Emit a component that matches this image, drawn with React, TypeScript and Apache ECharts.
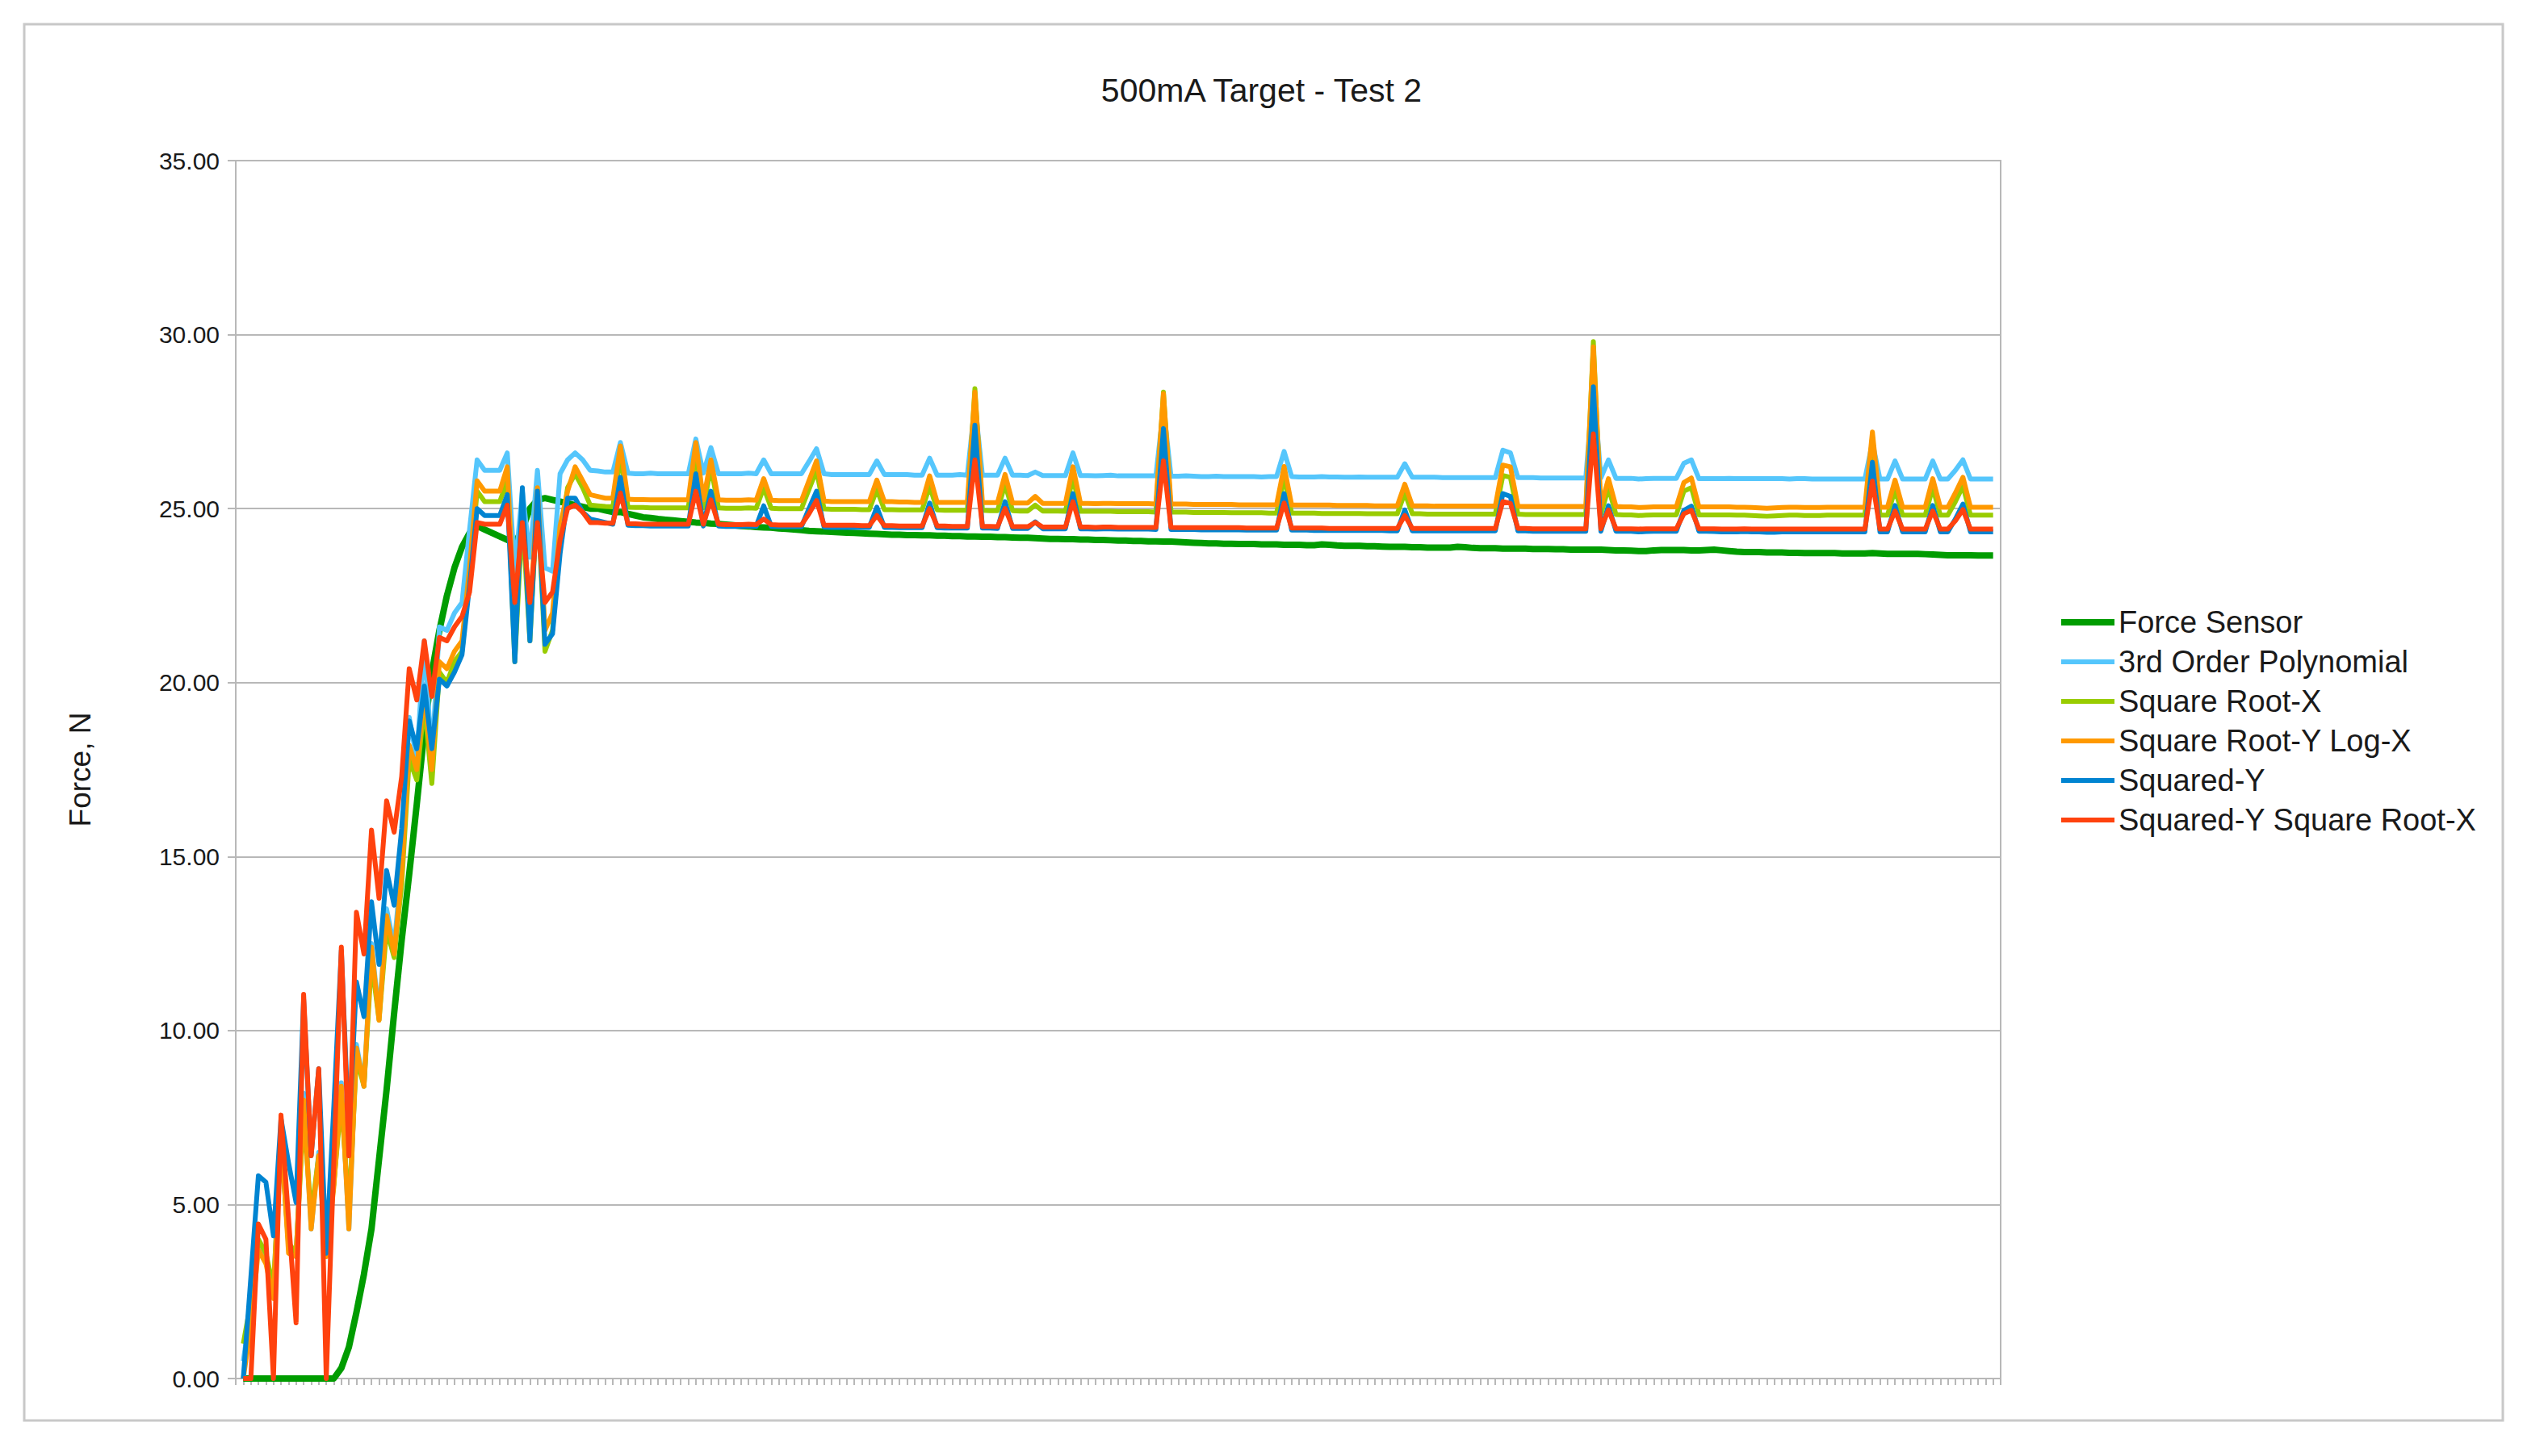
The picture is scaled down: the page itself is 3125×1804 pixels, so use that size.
import React, { useEffect, useRef } from "react";
import * as echarts from "echarts";

const TITLE = "500mA Target - Test 2";
const Y_NAME = "Force, N";
const SERIES_NAMES = [
  "Force Sensor",
  "3rd Order Polynomial",
  "Square Root-X",
  "Square Root-Y Log-X",
  "Squared-Y",
  "Squared-Y Square Root-X",
];
const COLORS = ["#009c00", "#55c6fc", "#99cc00", "#ff9900", "#0084d1", "#ff420e"];

const forceSensor = [
  0, 0, 0, 0, 0, 0, 0, 0, 0, 0,
  0, 0, 0, 0.3, 0.9, 1.9, 3.0, 4.3, 6.3, 8.3,
  10.5, 12.6, 14.5, 16.5, 18.6, 20.3, 21.5, 22.5, 23.3, 23.9,
  24.3, 24.5, 24.4, 24.3, 24.2, 24.1, 24.0, 24.4, 25.0, 25.25,
  25.3, 25.25, 25.2, 25.15, 25.1, 25.05, 25.0, 25.0, 24.95, 24.9,
  24.9, 24.85, 24.8, 24.75, 24.73, 24.7, 24.68, 24.66, 24.64, 24.62,
  24.6, 24.59, 24.57, 24.56, 24.54, 24.52, 24.5, 24.49, 24.47, 24.46,
  24.45, 24.43, 24.42, 24.4, 24.38, 24.36, 24.35, 24.34, 24.33, 24.32,
  24.31, 24.3, 24.29, 24.28, 24.27, 24.26, 24.25, 24.25, 24.24, 24.24,
  24.23, 24.23, 24.22, 24.22, 24.21, 24.21, 24.2, 24.2, 24.19, 24.19,
  24.18, 24.18, 24.17, 24.16, 24.16, 24.15, 24.14, 24.13, 24.13, 24.12,
  24.12, 24.11, 24.11, 24.1, 24.1, 24.09, 24.08, 24.08, 24.07, 24.07,
  24.06, 24.06, 24.05, 24.05, 24.04, 24.03, 24.02, 24.01, 24.0, 24.0,
  23.99, 23.99, 23.98, 23.98, 23.98, 23.97, 23.97, 23.97, 23.96, 23.96,
  23.96, 23.95, 23.95, 23.97, 23.96, 23.94, 23.93, 23.93, 23.93, 23.92,
  23.92, 23.91, 23.9, 23.9, 23.9, 23.89, 23.89, 23.88, 23.88, 23.88,
  23.88, 23.9, 23.89, 23.87, 23.86, 23.86, 23.86, 23.85, 23.85, 23.85,
  23.85, 23.84, 23.84, 23.84, 23.83, 23.83, 23.82, 23.82, 23.82, 23.82,
  23.82, 23.81, 23.8, 23.8, 23.79, 23.78, 23.78, 23.8, 23.81, 23.81,
  23.81, 23.81, 23.8, 23.8, 23.81, 23.82, 23.8, 23.78, 23.76, 23.75,
  23.75, 23.75, 23.74, 23.74, 23.74, 23.73, 23.73, 23.72, 23.72, 23.72,
  23.72, 23.72, 23.71, 23.71, 23.71, 23.71, 23.72, 23.71, 23.7, 23.7,
  23.7, 23.7, 23.7, 23.69, 23.68, 23.67, 23.66, 23.66, 23.66, 23.66,
  23.65, 23.65, 23.65,
];

const thirdOrderPoly = [
  0.5, 2.0, 3.8, 3.4, 2.5, 7.0, 3.8, 3.5, 8.2, 4.3,
  6.5, 3.6, 5.6, 8.5, 4.3, 9.6, 8.4, 12.5, 10.4, 13.5,
  12.4, 14.8, 19.0, 17.8, 21.2, 17.8, 21.6, 21.5, 22.0, 22.3,
  24.4, 26.4, 26.1, 26.1, 26.1, 26.6, 23.2, 25.5, 23.6, 26.1,
  23.3, 23.2, 26.0, 26.4, 26.6, 26.4, 26.1, 26.08, 26.05, 26.05,
  26.9, 26.02, 26.0, 26.0, 26.02, 26.0, 26.0, 26.0, 26.0, 26.0,
  27.0, 26.02, 26.75, 26.0, 26.0, 26.0, 26.0, 26.02, 26.0, 26.4,
  26.0, 26.0, 26.0, 26.0, 26.0, 26.35, 26.72, 26.0, 25.98, 25.98,
  25.98, 25.98, 25.98, 25.98, 26.37, 25.98, 25.98, 25.98, 25.98, 25.96,
  25.96, 26.45, 25.96, 25.96, 25.96, 25.98, 25.96, 28.0, 25.96, 25.96,
  25.96, 26.45, 25.96, 25.96, 25.95, 26.05, 25.95, 25.95, 25.95, 25.95,
  26.6, 25.95, 25.95, 25.94, 25.95, 25.96, 25.94, 25.94, 25.94, 25.94,
  25.94, 25.94, 27.9, 25.93, 25.93, 25.94, 25.93, 25.92, 25.92, 25.93,
  25.92, 25.92, 25.92, 25.92, 25.92, 25.91, 25.92, 25.92, 26.64, 25.92,
  25.91, 25.91, 25.91, 25.92, 25.91, 25.91, 25.9, 25.9, 25.91, 25.9,
  25.9, 25.9, 25.9, 25.9, 26.29, 25.9, 25.9, 25.9, 25.9, 25.89,
  25.89, 25.89, 25.89, 25.89, 25.89, 25.89, 25.89, 26.68, 26.6, 25.89,
  25.89, 25.89, 25.88, 25.88, 25.88, 25.88, 25.88, 25.88, 25.88, 28.6,
  25.88, 26.4, 25.87, 25.87, 25.87, 25.85, 25.86, 25.87, 25.87, 25.87,
  25.87, 26.3, 26.4, 25.86, 25.86, 25.86, 25.86, 25.87, 25.86, 25.86,
  25.86, 25.86, 25.86, 25.86, 25.86, 25.85, 25.86, 25.86, 25.85, 25.85,
  25.85, 25.85, 25.85, 25.85, 25.85, 25.85, 26.9, 25.85, 25.85, 26.37,
  25.85, 25.85, 25.85, 25.85, 26.37, 25.85, 25.85, 26.1, 26.4, 25.85,
  25.85, 25.85, 25.85,
];

const squareRootX = [
  1.0, 2.2, 4.0, 3.6, 2.6, 6.8, 3.9, 3.6, 7.6, 4.7,
  6.4, 3.8, 5.6, 8.0, 4.8, 9.2, 8.4, 12.0, 10.3, 12.9,
  12.1, 14.2, 17.8, 17.2, 19.4, 17.1, 20.3, 20.0, 20.6, 20.9,
  23.1, 25.5, 25.2, 25.2, 25.2, 25.8, 20.6, 24.8, 21.2, 25.3,
  20.9, 21.5, 24.2, 25.6, 26.0, 25.6, 25.1, 25.08, 25.06, 25.05,
  26.5, 25.04, 25.03, 25.03, 25.02, 25.02, 25.02, 25.02, 25.02, 25.02,
  26.6, 25.02, 26.2, 25.02, 25.01, 25.01, 25.01, 25.02, 25.01, 25.6,
  25.01, 25.0, 25.0, 25.0, 25.0, 25.55, 26.1, 24.99, 24.98, 24.98,
  24.98, 24.98, 24.97, 24.97, 25.55, 24.97, 24.97, 24.96, 24.96, 24.96,
  24.96, 25.65, 24.96, 24.95, 24.95, 24.95, 24.95, 28.45, 24.95, 24.94,
  24.94, 25.7, 24.94, 24.93, 24.93, 25.1, 24.93, 24.93, 24.93, 24.92,
  25.9, 24.92, 24.92, 24.92, 24.92, 24.92, 24.91, 24.91, 24.91, 24.91,
  24.91, 24.9, 28.35, 24.9, 24.9, 24.9, 24.89, 24.89, 24.89, 24.89,
  24.89, 24.88, 24.88, 24.88, 24.88, 24.88, 24.87, 24.87, 25.9, 24.87,
  24.87, 24.87, 24.87, 24.86, 24.86, 24.86, 24.86, 24.86, 24.86, 24.85,
  24.85, 24.85, 24.85, 24.85, 25.45, 24.85, 24.85, 24.84, 24.84, 24.84,
  24.84, 24.84, 24.84, 24.84, 24.84, 24.84, 24.84, 25.95, 25.9, 24.84,
  24.83, 24.83, 24.83, 24.83, 24.83, 24.83, 24.83, 24.83, 24.83, 29.8,
  24.83, 25.6, 24.83, 24.82, 24.82, 24.8, 24.81, 24.82, 24.82, 24.82,
  24.82, 25.5, 25.6, 24.82, 24.82, 24.82, 24.82, 24.82, 24.81, 24.81,
  24.8, 24.79, 24.78, 24.79, 24.8, 24.81, 24.81, 24.8, 24.8, 24.8,
  24.81, 24.81, 24.81, 24.81, 24.81, 24.81, 27.05, 24.81, 24.81, 25.55,
  24.81, 24.81, 24.81, 24.81, 25.6, 24.81, 24.81, 25.2, 25.65, 24.81,
  24.81, 24.81, 24.81,
];

const squareRootYLogX = [
  0, 1.5, 3.7, 3.3, 2.3, 7.1, 3.6, 3.5, 8.0, 4.3,
  6.4, 3.5, 5.5, 8.4, 4.3, 9.5, 8.4, 12.4, 10.3, 13.3,
  12.2, 14.5, 18.2, 17.5, 19.8, 17.5, 20.6, 20.4, 20.9, 21.2,
  23.3, 25.8, 25.5, 25.5, 25.5, 26.2, 21.7, 25.0, 21.8, 25.6,
  21.5, 22.0, 24.5, 25.5, 26.2, 25.8, 25.4, 25.35, 25.3, 25.3,
  26.8, 25.27, 25.26, 25.26, 25.25, 25.25, 25.25, 25.25, 25.25, 25.25,
  26.9, 25.25, 26.4, 25.25, 25.24, 25.24, 25.24, 25.25, 25.24, 25.86,
  25.24, 25.23, 25.23, 25.23, 25.23, 25.8, 26.37, 25.22, 25.2, 25.2,
  25.2, 25.2, 25.2, 25.2, 25.82, 25.2, 25.2, 25.19, 25.19, 25.18,
  25.18, 25.94, 25.18, 25.18, 25.18, 25.18, 25.18, 28.35, 25.17, 25.17,
  25.17, 25.98, 25.16, 25.16, 25.16, 25.35, 25.15, 25.15, 25.15, 25.15,
  26.2, 25.15, 25.15, 25.14, 25.15, 25.15, 25.14, 25.14, 25.14, 25.14,
  25.14, 25.13, 28.3, 25.13, 25.13, 25.13, 25.12, 25.12, 25.12, 25.12,
  25.12, 25.12, 25.11, 25.11, 25.11, 25.11, 25.11, 25.11, 26.21, 25.1,
  25.1, 25.1, 25.1, 25.1, 25.1, 25.09, 25.09, 25.09, 25.09, 25.09,
  25.08, 25.08, 25.08, 25.08, 25.7, 25.08, 25.08, 25.08, 25.07, 25.07,
  25.07, 25.07, 25.07, 25.07, 25.07, 25.07, 25.07, 26.25, 26.2, 25.07,
  25.06, 25.06, 25.06, 25.06, 25.06, 25.06, 25.06, 25.06, 25.06, 29.65,
  25.06, 25.86, 25.06, 25.05, 25.05, 25.03, 25.04, 25.05, 25.05, 25.05,
  25.05, 25.75, 25.88, 25.05, 25.05, 25.05, 25.05, 25.05, 25.04, 25.04,
  25.03, 25.02, 25.01, 25.02, 25.03, 25.04, 25.04, 25.03, 25.03, 25.03,
  25.04, 25.04, 25.04, 25.04, 25.04, 25.04, 27.2, 25.04, 25.04, 25.82,
  25.04, 25.04, 25.04, 25.04, 25.86, 25.04, 25.04, 25.45, 25.9, 25.04,
  25.04, 25.04, 25.04,
];

const squaredY = [
  0, 2.9, 5.83, 5.64, 4.1, 7.47, 6.2, 5.06, 10.9, 6.4,
  8.9, 3.6, 7.8, 12.3, 7.0, 11.4, 10.4, 13.7, 11.9, 14.6,
  13.6, 15.8, 18.9, 18.1, 19.9, 18.1, 20.1, 19.9, 20.3, 20.8,
  22.8, 25.0, 24.8, 24.8, 24.8, 25.4, 20.6, 25.6, 21.2, 25.5,
  21.1, 21.4, 23.7, 25.3, 25.3, 24.9, 24.7, 24.65, 24.6, 24.55,
  25.9, 24.52, 24.51, 24.51, 24.5, 24.5, 24.5, 24.5, 24.5, 24.5,
  26.0, 24.5, 25.5, 24.5, 24.49, 24.49, 24.49, 24.5, 24.49, 25.08,
  24.49, 24.48, 24.48, 24.48, 24.48, 25.0, 25.5, 24.47, 24.46, 24.46,
  24.46, 24.46, 24.46, 24.46, 25.04, 24.46, 24.46, 24.45, 24.45, 24.45,
  24.45, 25.16, 24.45, 24.44, 24.44, 24.44, 24.44, 27.4, 24.44, 24.44,
  24.43, 25.2, 24.43, 24.43, 24.43, 24.62, 24.42, 24.42, 24.42, 24.42,
  25.43, 24.42, 24.42, 24.41, 24.42, 24.42, 24.41, 24.41, 24.41, 24.41,
  24.41, 24.4, 27.3, 24.4, 24.4, 24.4, 24.4, 24.39, 24.39, 24.39,
  24.39, 24.39, 24.39, 24.38, 24.38, 24.38, 24.38, 24.38, 25.43, 24.38,
  24.38, 24.38, 24.37, 24.37, 24.37, 24.37, 24.37, 24.37, 24.37, 24.37,
  24.37, 24.37, 24.36, 24.36, 24.96, 24.36, 24.36, 24.36, 24.36, 24.36,
  24.36, 24.36, 24.36, 24.36, 24.36, 24.36, 24.36, 25.43, 25.35, 24.36,
  24.36, 24.35, 24.35, 24.35, 24.35, 24.35, 24.35, 24.35, 24.35, 28.5,
  24.35, 25.08, 24.35, 24.35, 24.35, 24.33, 24.34, 24.35, 24.35, 24.35,
  24.35, 24.95, 25.07, 24.35, 24.35, 24.34, 24.33, 24.33, 24.33, 24.34,
  24.33, 24.33, 24.32, 24.32, 24.33, 24.33, 24.33, 24.33, 24.33, 24.33,
  24.33, 24.33, 24.33, 24.33, 24.33, 24.33, 26.33, 24.33, 24.33, 25.09,
  24.33, 24.33, 24.33, 24.33, 25.09, 24.33, 24.33, 24.7, 25.13, 24.33,
  24.33, 24.33, 24.33,
];

const squaredYSquareRootX = [
  0, 0, 4.44, 4.0, 0, 7.57, 4.6, 1.6, 11.04, 6.4,
  8.9, 0, 6.2, 12.4, 6.4, 13.4, 12.2, 15.76, 13.8, 16.6,
  15.7, 17.3, 20.4, 19.5, 21.2, 19.6, 21.3, 21.2, 21.6, 21.9,
  22.6, 24.6, 24.55, 24.55, 24.55, 25.1, 22.3, 24.6, 22.3, 24.6,
  22.3, 22.6, 24.1, 25.0, 25.1, 24.9, 24.6, 24.6, 24.58, 24.58,
  25.45, 24.56, 24.56, 24.55, 24.55, 24.55, 24.55, 24.55, 24.55, 24.55,
  25.5, 24.55, 25.25, 24.55, 24.54, 24.54, 24.54, 24.55, 24.54, 24.7,
  24.54, 24.53, 24.53, 24.53, 24.53, 24.85, 25.23, 24.52, 24.52, 24.52,
  24.52, 24.52, 24.51, 24.51, 24.8, 24.51, 24.51, 24.5, 24.5, 24.5,
  24.5, 25.0, 24.5, 24.5, 24.49, 24.49, 24.49, 26.4, 24.49, 24.49,
  24.48, 25.0, 24.48, 24.48, 24.48, 24.6, 24.47, 24.47, 24.47, 24.47,
  25.2, 24.47, 24.47, 24.46, 24.47, 24.47, 24.46, 24.46, 24.46, 24.46,
  24.46, 24.46, 26.37, 24.46, 24.45, 24.45, 24.45, 24.45, 24.45, 24.45,
  24.45, 24.45, 24.45, 24.44, 24.44, 24.44, 24.44, 24.44, 25.16, 24.44,
  24.44, 24.44, 24.44, 24.44, 24.43, 24.43, 24.43, 24.43, 24.43, 24.43,
  24.43, 24.43, 24.43, 24.43, 24.8, 24.43, 24.43, 24.43, 24.43, 24.43,
  24.43, 24.43, 24.43, 24.43, 24.43, 24.43, 24.43, 25.2, 25.15, 24.43,
  24.43, 24.42, 24.42, 24.42, 24.42, 24.42, 24.42, 24.42, 24.42, 27.15,
  24.42, 24.96, 24.42, 24.42, 24.42, 24.41, 24.42, 24.42, 24.42, 24.42,
  24.42, 24.85, 24.95, 24.42, 24.42, 24.42, 24.41, 24.41, 24.41, 24.42,
  24.41, 24.41, 24.41, 24.41, 24.41, 24.41, 24.41, 24.41, 24.41, 24.41,
  24.41, 24.41, 24.41, 24.41, 24.41, 24.41, 25.79, 24.41, 24.41, 24.93,
  24.41, 24.41, 24.41, 24.41, 24.93, 24.41, 24.41, 24.65, 24.97, 24.41,
  24.41, 24.41, 24.41,
];

const SERIES_VALUES = [
  forceSensor,
  thirdOrderPoly,
  squareRootX,
  squareRootYLogX,
  squaredY,
  squaredYSquareRootX,
];
const LINE_WIDTHS = [8, 6, 6, 6, 6, 6];

const Y_MIN = 0;
const Y_MAX = 35;
const Y_STEP = 5;

const FONT = "'Liberation Sans', Arial, sans-serif";
const GRID_COLOR = "#b8b8b8";

export default function App() {
  const ref = useRef<HTMLDivElement>(null);

  useEffect(() => {
    document.body.style.margin = "0";
    document.body.style.overflow = "hidden";
    if (!ref.current) return;
    const chart = echarts.init(ref.current, null, { renderer: "svg" });
    const n = forceSensor.length;

    const series = SERIES_NAMES.map((name, k) => ({
      name,
      type: "line",
      data: SERIES_VALUES[k].map((v, i) => [i, v]),
      symbol: "none",
      showSymbol: false,
      color: COLORS[k],
      lineStyle: { width: LINE_WIDTHS[k], color: COLORS[k], join: "round" },
      z: 2 + k,
    }));

    const legendText = { fontFamily: FONT, fontSize: 38, color: "#1a1a1a", lineHeight: 40 };

    chart.setOption({
      animation: false,
      backgroundColor: "#ffffff",
      textStyle: { fontFamily: FONT },
      title: {
        text: TITLE,
        left: "center",
        top: 91,
        padding: 0,
        textStyle: { fontFamily: FONT, fontSize: 41, fontWeight: "normal", color: "#1a1a1a" },
      },
      legend: [
        {
          orient: "vertical",
          left: 2553,
          top: 751,
          padding: 0,
          itemGap: 9,
          itemWidth: 66,
          itemHeight: 8,
          icon: "rect",
          data: [SERIES_NAMES[0]],
          textStyle: legendText,
        },
        {
          orient: "vertical",
          left: 2553,
          top: 800,
          padding: 0,
          itemGap: 9,
          itemWidth: 66,
          itemHeight: 6,
          icon: "rect",
          data: SERIES_NAMES.slice(1),
          textStyle: legendText,
        },
      ],
      grid: {
        left: 292,
        right: 3125 - 2478,
        top: 199,
        bottom: 1804 - 1708,
        show: true,
        borderColor: GRID_COLOR,
        borderWidth: 2,
      },
      xAxis: {
        type: "value",
        min: -1,
        max: n,
        interval: 1,
        axisLine: { show: true, onZero: false, lineStyle: { color: GRID_COLOR, width: 2 } },
        axisTick: { show: true, length: 8, lineStyle: { color: GRID_COLOR, width: 2 } },
        axisLabel: { show: false },
        splitLine: { show: false },
      },
      yAxis: {
        type: "value",
        min: Y_MIN,
        max: Y_MAX,
        interval: Y_STEP,
        name: Y_NAME,
        nameLocation: "middle",
        nameRotate: 90,
        nameGap: 174,
        nameTextStyle: { fontFamily: FONT, fontSize: 37, color: "#1a1a1a" },
        axisLine: { show: true, onZero: false, lineStyle: { color: GRID_COLOR, width: 2 } },
        axisTick: { show: true, length: 10, lineStyle: { color: GRID_COLOR, width: 2 } },
        axisLabel: {
          fontFamily: FONT,
          fontSize: 30,
          color: "#1a1a1a",
          margin: 20,
          formatter: (v: number) => v.toFixed(2),
        },
        splitLine: { show: true, lineStyle: { color: GRID_COLOR, width: 2 } },
      },
      graphic: [
        {
          type: "rect",
          shape: { x: 30, y: 30, width: 3070, height: 1730 },
          style: { fill: "none", stroke: "#c8c8c8", lineWidth: 3 },
          silent: true,
          z: -1,
        },
      ],
      series,
    });

    return () => chart.dispose();
  }, []);

  return <div ref={ref} style={{ width: 3125, height: 1804 }} />;
}
